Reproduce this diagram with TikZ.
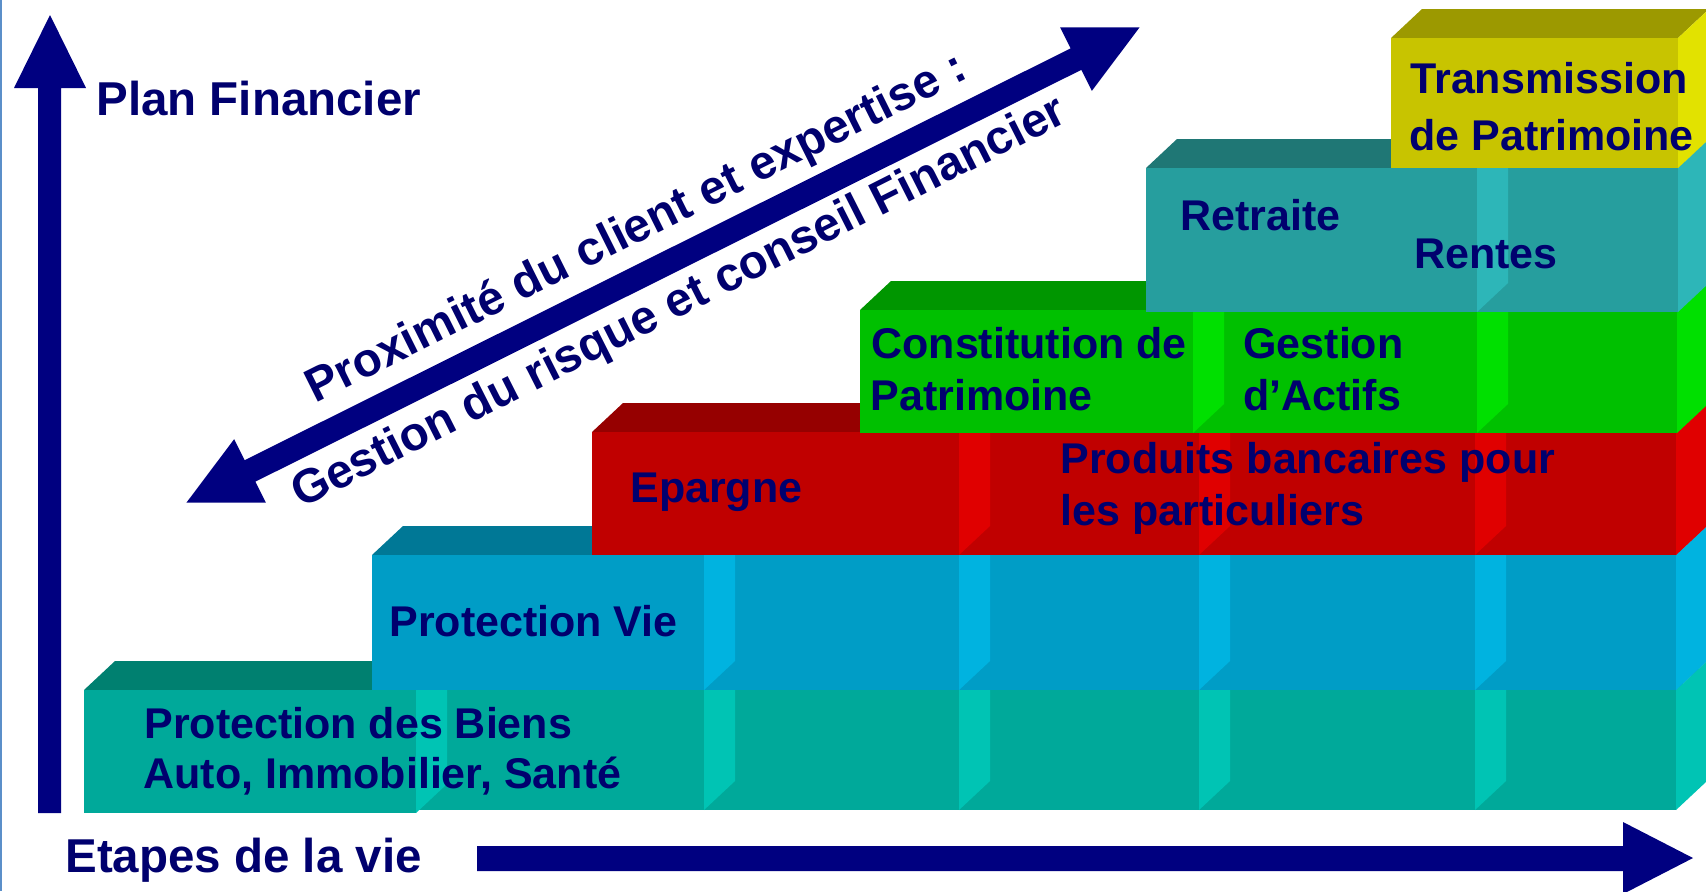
\documentclass[tikz,border=0pt]{standalone}
\usepackage{fontspec}
\setmainfont{Liberation Sans}
\definecolor{txtc}{HTML}{00006E}
\definecolor{arrc}{HTML}{000080}
\definecolor{edgec}{HTML}{5B8FC9}
\definecolor{aF}{HTML}{00A99A}\definecolor{aT}{HTML}{008070}\definecolor{aS}{HTML}{00C4B4}
\definecolor{bF}{HTML}{009DC6}\definecolor{bT}{HTML}{007896}\definecolor{bS}{HTML}{00B3E0}
\definecolor{cF}{HTML}{C00000}\definecolor{cT}{HTML}{960000}\definecolor{cS}{HTML}{E00000}
\definecolor{dF}{HTML}{00C000}\definecolor{dT}{HTML}{009600}\definecolor{dS}{HTML}{00E000}
\definecolor{eF}{HTML}{269E9E}\definecolor{eT}{HTML}{1F7775}\definecolor{eS}{HTML}{2DB6B8}
\definecolor{fF}{HTML}{C8C400}\definecolor{fT}{HTML}{9C9900}\definecolor{fS}{HTML}{E2E200}
% box: L R T B front top side
\newcommand\blk[7]{%
  \fill[#6] (#1,#3) -- (#1+31,#3-29) -- (#2+31,#3-29) -- (#2,#3) -- cycle;
  \fill[#7] (#2,#3) -- (#2+31,#3-29) -- (#2+31,#4-29) -- (#2,#4) -- cycle;
  \fill[#5] (#1,#3) rectangle (#2,#4);}
\tikzset{
  boxtxt/.style={anchor=base west, inner sep=0pt, text=txtc, font=\bfseries\fontsize{21.5}{25}\selectfont},
  axtxt/.style={anchor=base west, inner sep=0pt, text=txtc, font=\bfseries\fontsize{23.75}{28}\selectfont},
  diagtxt/.style={anchor=base west, inner sep=0pt, text=txtc, font=\bfseries\fontsize{23.75}{28}\selectfont},
}
\begin{document}
\begin{tikzpicture}[x=0.5pt,y=-0.5pt]
\useasboundingbox (0,0) rectangle (1706,891);
\fill[white] (0,0) rectangle (1706,891);
\begin{scope}
\clip (0,0) rectangle (1706,891);
% row 1
\blk{1475}{1676}{690}{810}{aF}{aT}{aS}
\blk{1199}{1475}{690}{810}{aF}{aT}{aS}
\blk{959}{1199}{690}{810}{aF}{aT}{aS}
\blk{704}{959}{690}{810}{aF}{aT}{aS}
\blk{416}{704}{690}{810}{aF}{aT}{aS}
\blk{84}{416}{690}{813}{aF}{aT}{aS}
% row 2
\blk{1475}{1676}{555}{690}{bF}{bT}{bS}
\blk{1199}{1475}{555}{690}{bF}{bT}{bS}
\blk{959}{1199}{555}{690}{bF}{bT}{bS}
\blk{704}{959}{555}{690}{bF}{bT}{bS}
\blk{372}{704}{555}{690}{bF}{bT}{bS}
% row 3
\blk{1475}{1676}{432}{555}{cF}{cT}{cS}
\blk{1199}{1475}{432}{555}{cF}{cT}{cS}
\blk{959}{1199}{432}{555}{cF}{cT}{cS}
\blk{592}{959}{432}{555}{cF}{cT}{cS}
% row 4
\blk{1477}{1677}{310}{433}{dF}{dT}{dS}
\blk{1193}{1477}{310}{433}{dF}{dT}{dS}
\blk{860}{1193}{310}{433}{dF}{dT}{dS}
% row 5
\blk{1477}{1678}{168}{312}{eF}{eT}{eS}
\blk{1146}{1477}{168}{312}{eF}{eT}{eS}
% row 6
\blk{1391}{1678}{38}{168}{fF}{fT}{fS}
% left edge line
\fill[edgec] (0,0) rectangle (2,891);
% vertical axis arrow
\fill[arrc] (38,813) -- (38,88) -- (14,88) -- (50,15) -- (86,88) -- (61,88) -- (61,813) -- cycle;
% horizontal axis arrow
\fill[arrc] (477,846) -- (1623,846) -- (1623,822) -- (1693,858) -- (1623,894) -- (1623,871) -- (477,871) -- cycle;
% diagonal double arrow
\begin{scope}[shift={(663,265)}, rotate=26.5]
\fill[arrc] (-532.5,0) -- (-461.5,-35.5) -- (-461.5,-12) -- (461.5,-12) -- (461.5,-35.5) -- (532.5,0) -- (461.5,35.5) -- (461.5,12) -- (-461.5,12) -- (-461.5,35.5) -- cycle;
\end{scope}
\end{scope}
% texts
\node[axtxt] (plan) at (96,115) {Plan Financier};
\node[axtxt] (etapes) at (65,872) {Etapes de la vie};
\node[diagtxt, rotate=26.5] (prox) at (315,404) {Proximité du client et expertise :};
\node[diagtxt, rotate=26.8] (gest) at (301,509) {Gestion du risque et conseil Financier};
\node[boxtxt] (t1a) at (144,738) {Protection des Biens};
\node[boxtxt] (t1b) at (143,788) {Auto, Immobilier, Santé};
\node[boxtxt] (t2) at (389,636) {Protection Vie};
\node[boxtxt] (t3) at (630,502) {Epargne};
\node[boxtxt] (t4a) at (871,358) {Constitution de};
\node[boxtxt] (t4b) at (870,410) {Patrimoine};
\node[boxtxt] (t5a) at (1243,358) {Gestion};
\node[boxtxt] (t5b) at (1243,410) {d’Actifs};
\node[boxtxt] (t6a) at (1060,473) {Produits bancaires pour};
\node[boxtxt] (t6b) at (1060,525) {les particuliers};
\node[boxtxt] (t7) at (1180,230) {Retraite};
\node[boxtxt] (t8) at (1414,268) {Rentes};
\node[boxtxt] (t9a) at (1410,93) {Transmission};
\node[boxtxt] (t9b) at (1409,150) {de Patrimoine};
\end{tikzpicture}
\end{document}
